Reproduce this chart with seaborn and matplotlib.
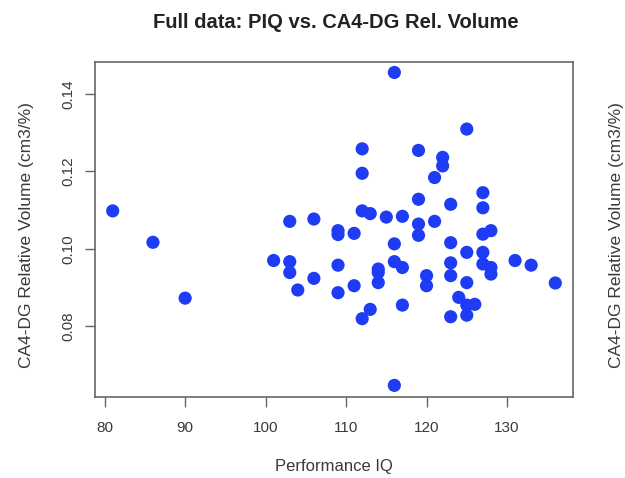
import matplotlib
matplotlib.use("Agg")
import matplotlib.pyplot as plt
import seaborn as sns
import pandas as pd

piq = [81, 86, 90, 101, 103, 103, 103, 104, 106, 106,
       109, 109, 109, 109, 111, 111, 112, 112, 112, 112,
       113, 113, 114, 114, 114, 115, 116, 116, 116, 116,
       117, 117, 117, 119, 119, 119, 119, 120, 120, 121,
       121, 122, 122, 123, 123, 123, 123, 123, 124, 125,
       125, 125, 125, 125, 126, 127, 127, 127, 127, 127,
       128, 128, 128, 131, 133, 136]
rel_vol = [0.1098, 0.1017, 0.0873, 0.0970, 0.1071, 0.0967, 0.0939, 0.0894, 0.1077, 0.0924,
           0.1047, 0.1037, 0.0958, 0.0887, 0.1040, 0.0905, 0.1258, 0.1195, 0.1098, 0.0820,
           0.1091, 0.0844, 0.0948, 0.0939, 0.0913, 0.1082, 0.1455, 0.1013, 0.0967, 0.0648,
           0.1084, 0.0952, 0.0855, 0.1254, 0.1128, 0.1064, 0.1035, 0.0931, 0.0905, 0.1184,
           0.1071, 0.1236, 0.1214, 0.1115, 0.1016, 0.0964, 0.0931, 0.0825, 0.0875, 0.1309,
           0.0991, 0.0913, 0.0855, 0.0829, 0.0857, 0.1145, 0.1106, 0.1038, 0.0991, 0.0961,
           0.1047, 0.0952, 0.0935, 0.0970, 0.0958, 0.0912]
x_ticks = [80, 90, 100, 110, 120, 130]
y_ticks = [0.08, 0.10, 0.12, 0.14]
y_tick_labels = ["0.08", "0.10", "0.12", "0.14"]

df = pd.DataFrame({"piq": piq, "vol": rel_vol})

sns.set_style("white")
plt.rcParams['font.family'] = ['Liberation Sans', 'DejaVu Sans']

text_c = "#3a3a3a"
fig = plt.figure(figsize=(6.25, 4.78), dpi=100)
ax = fig.add_axes([95/625, 1-397/478, (573-95)/625, (397-62)/478])

sns.scatterplot(data=df, x="piq", y="vol", ax=ax, color="#1f3cf5",
                s=90, edgecolor="none", linewidth=0, alpha=1)

ax.set_xlim(78.8, 138.2)
ax.set_ylim(0.0618, 0.1482)
ax.set_xticks(x_ticks)
ax.set_xticklabels([str(t) for t in x_ticks])
ax.set_yticks(y_ticks)
ax.set_yticklabels(y_tick_labels, rotation=90, va="center")
ax.tick_params(axis="both", direction="out", length=7, width=1, color="#666666",
               labelsize=11, labelcolor=text_c, bottom=True, left=True)
ax.tick_params(axis="x", pad=10)
ax.tick_params(axis="y", pad=7)
for sp in ax.spines.values():
    sp.set_color("#666666")
    sp.set_linewidth(1.2)

ax.set_xlabel("")
ax.set_ylabel("")
fig.text(334/625, 1-467/478, "Performance IQ", ha="center", va="center",
         fontsize=12, color=text_c)
fig.text(27/625, 1-235/478, "CA4-DG Relative Volume (cm3/%)", ha="center", va="center",
         rotation=90, fontsize=12.5, color=text_c)
fig.text(616/625, 1-235/478, "CA4-DG Relative Volume (cm3/%)", ha="center", va="center",
         rotation=90, fontsize=12.5, color=text_c)
fig.text(336/625, 1-23/478, "Full data: PIQ vs. CA4-DG Rel. Volume", ha="center",
         va="center", fontsize=14.5, fontweight="bold", color="#222222")

fig.savefig("out.png", dpi=100)
